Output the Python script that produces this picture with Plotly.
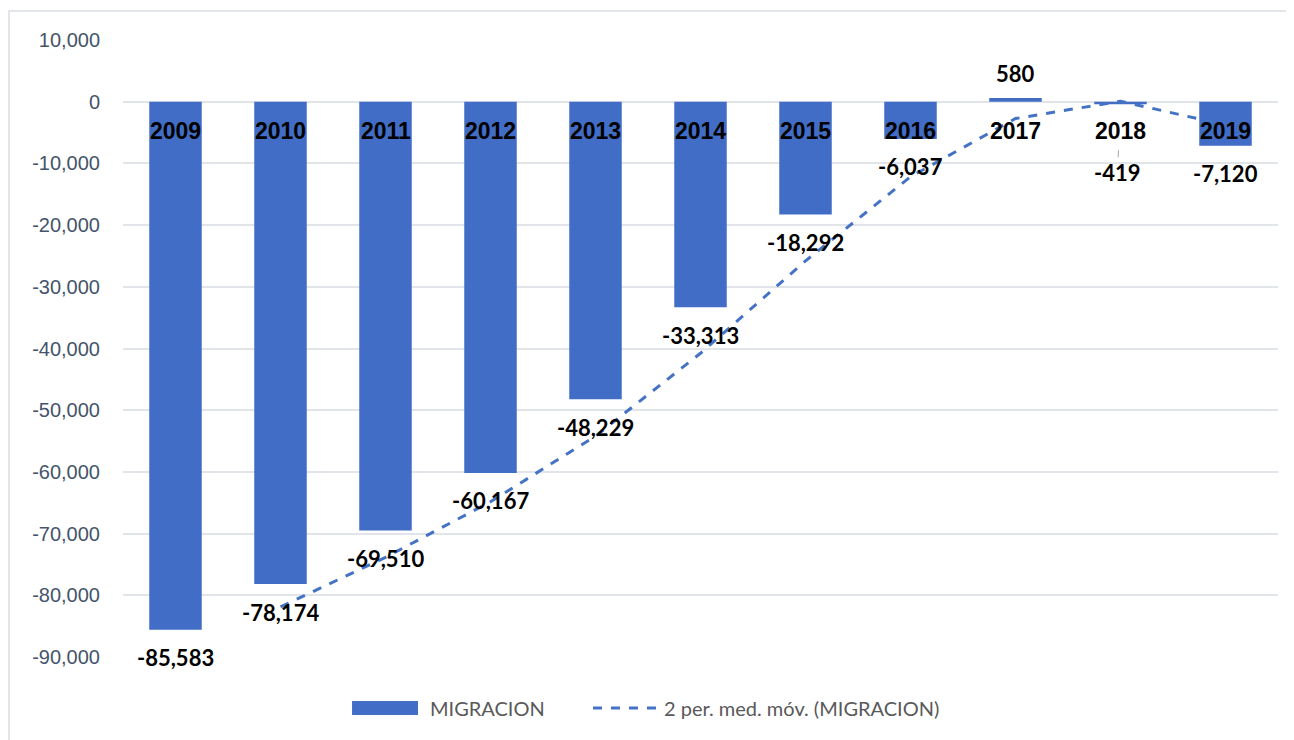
import plotly.graph_objects as go

# data
years = [2009, 2010, 2011, 2012, 2013, 2014, 2015, 2016, 2017, 2018, 2019]
migracion = [-85583, -78174, -69510, -60167, -48229, -33313, -18292, -6037, 580, -419, -7120]
# 2 period moving average, starts at the 2nd year
ma_years = years[1:]
ma_values = [-81879, -73842, -64839, -54198, -40771, -25803, -12165, -2729, 81, -3770]
y_ticks = [10000, 0, -10000, -20000, -30000, -40000, -50000, -60000, -70000, -80000, -90000]

bar_color = '#416DC6'
line_color = '#4472C4'

fig = go.Figure()

fig.add_trace(go.Bar(
    x=years, y=migracion, name='MIGRACION',
    marker=dict(color=bar_color, line=dict(width=0)),
    width=0.5,
))

fig.add_trace(go.Scatter(
    x=ma_years, y=ma_values, mode='lines',
    name='2 per. med. móv. (MIGRACION)',
    line=dict(color=line_color, width=3, dash='dash'),
))

annotations = []
# year labels sitting on the zero line
for yr in years:
    annotations.append(dict(
        x=yr, y=0, text='<b>%d</b>' % yr, showarrow=False,
        yanchor='middle', yshift=-29,
        font=dict(family='Arial, Liberation Sans', size=23, color='black'),
    ))

# value labels
for yr, v in zip(years, migracion):
    txt = '<b>{:,}</b>'.format(v)
    if yr == 2018:
        annotations.append(dict(
            x=yr, y=v, text=txt, showarrow=True, ax=-3, ay=68,
            arrowhead=0, arrowwidth=1, arrowcolor='#A6A6A6', standoff=46,
            font=dict(family='Lato', size=22, color='black'),
        ))
    else:
        annotations.append(dict(
            x=yr, y=v, text=txt, showarrow=False,
            yanchor='middle', yshift=(25 if v > 0 else -28),
            font=dict(family='Lato', size=22, color='black'),
        ))

# hand drawn legend (wide swatches like the original)
legend_font = dict(family='Lato', size=20, color='#595959')
annotations.append(dict(xref='paper', yref='paper', x=0.2641, y=-0.0827,
                        xanchor='left', yanchor='middle', showarrow=False,
                        text='MIGRACION', font=legend_font))
annotations.append(dict(xref='paper', yref='paper', x=0.4665, y=-0.0827,
                        xanchor='left', yanchor='middle', showarrow=False,
                        text='2 per. med. móv. (MIGRACION)', font=legend_font))

shapes = [
    # outer frame
    dict(type='rect', xref='paper', yref='paper',
         x0=-0.0987, x1=1.05, y0=-0.3, y1=1.047,
         line=dict(color='#D9DEE4', width=1.5), layer='below'),
    # legend swatches
    dict(type='rect', xref='paper', yref='paper',
         x0=0.1983, x1=0.2554, y0=-0.0940, y1=-0.0713,
         fillcolor=bar_color, line=dict(width=0)),
    dict(type='line', xref='paper', yref='paper',
         x0=0.4069, x1=0.4630, y0=-0.0827, y1=-0.0827,
         line=dict(color=line_color, width=3, dash='dash')),
]

fig.update_layout(
    width=1286, height=732,
    margin=dict(l=115, r=16, t=32, b=83, autoexpand=False),
    paper_bgcolor='white', plot_bgcolor='white',
    annotations=annotations,
    shapes=shapes,
    showlegend=False,
    xaxis=dict(range=[2008.5, 2019.5], showticklabels=False, showgrid=False,
               zeroline=False, showline=False, automargin=False),
    yaxis=dict(range=[-90000, 10000], tickvals=y_ticks,
               ticktext=['{:,}'.format(t) for t in y_ticks],
               showgrid=True, gridcolor='#E1E5EA', gridwidth=1.5,
               zeroline=True, zerolinecolor='#E1E5EA', zerolinewidth=1.5,
               showline=False, ticks='', ticklen=0, ticklabelstandoff=22, automargin=False,
               tickfont=dict(family='Arial, Liberation Sans', size=20, color='#44546A')),
)

fig.write_html('out.html')
